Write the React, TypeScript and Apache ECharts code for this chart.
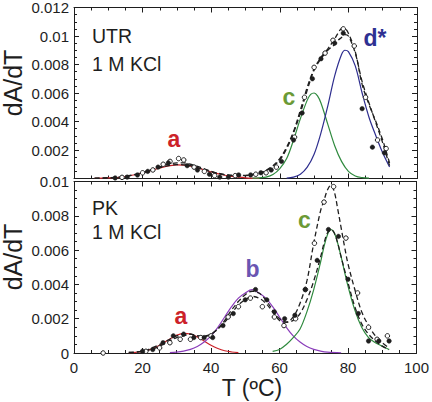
import React, { useEffect, useRef } from "react";
import * as echarts from "echarts";

// ---------- axes ----------
const T_MIN = 0;
const T_MAX = 100;
const T_STEP = 20;
const TOP_Y_MAX = 0.012;
const BOT_Y_MAX = 0.01;
const Y_STEP = 0.002;

// ---------- top panel (UTR, 1 M KCl) ----------
const topA = [[6,0.00001],[10,0.00004],[14,0.0001],[18,0.00028],[22,0.00054],[26,0.0008],[28,0.0009],[30,0.00095],[32,0.00094],[34,0.00087],[36,0.00075],[38,0.00061],[40,0.00046],[42,0.00034],[44,0.00023],[46,0.00015],[48,0.00009],[50,0.00005],[54,0.00001]];
const topC = [[52,0.00002],[54,0.00005],[56,0.0001],[58,0.00028],[60,0.0007],[62,0.0014],[64,0.0027],[66,0.0042],[68,0.0055],[69,0.0059],[70,0.006],[71,0.0058],[72,0.0053],[74,0.0038],[76,0.0023],[78,0.0012],[80,0.0005],[82,0.00018],[84,0.00006],[86,0.00002]];
const topD = [[62,0.00003],[64,0.0001],[66,0.0003],[68,0.0008],[70,0.0017],[72,0.0032],[74,0.0051],[76,0.0072],[78,0.0087],[79,0.009],[80,0.0089],[82,0.0079],[84,0.006],[86,0.0043],[88,0.003],[90,0.0018],[92,0.0008]];
const topFitOpen = [[6,0.00002],[10,0.00005],[14,0.00012],[18,0.0003],[22,0.00058],[26,0.0009],[28,0.00103],[30,0.0011],[32,0.0011],[34,0.001],[36,0.00085],[38,0.00068],[40,0.0005],[42,0.00037],[44,0.00028],[46,0.00023],[48,0.00021],[50,0.00022],[52,0.00027],[54,0.00038],[56,0.00058],[58,0.0009],[60,0.0014],[62,0.0022],[64,0.0033],[66,0.0048],[68,0.0064],[70,0.0077],[72,0.0085],[74,0.0091],[76,0.0098],[77,0.0102],[78,0.0105],[79,0.0105],[80,0.0102],[82,0.0089],[84,0.0066],[86,0.0052],[88,0.004],[90,0.0027],[91,0.0019],[92,0.0011]];
const topFitFilled = [[6,0.00001],[10,0.00004],[14,0.0001],[18,0.00028],[22,0.00054],[26,0.00082],[28,0.00092],[30,0.00097],[32,0.00096],[34,0.0009],[36,0.00077],[38,0.00062],[40,0.00047],[42,0.00035],[44,0.00026],[46,0.0002],[48,0.00018],[50,0.0002],[52,0.00025],[54,0.00035],[56,0.00055],[58,0.00085],[60,0.0013],[62,0.0021],[64,0.0032],[66,0.0046],[68,0.0062],[70,0.0076],[72,0.0084],[74,0.009],[76,0.0094],[77,0.0097],[78,0.0099],[79,0.0101],[80,0.01],[82,0.0088],[84,0.0068],[86,0.0053],[88,0.0039],[90,0.0025],[91,0.0017],[92,0.0009]];
const topFilled = [[12,0.00004],[15.5,0.0001],[18.5,0.00025],[21.5,0.0005],[24.5,0.0008],[27.5,0.0011],[33,0.0009],[36,0.0006],[39.5,0.0003],[42.5,0.0001],[45,0.0001],[48,0.00025],[51.5,0.00025],[54.5,0.0004],[57.5,0.0006],[60.5,0.0012],[64,0.0027],[66.5,0.0046],[69.5,0.007],[72,0.0084],[76,0.0095],[78.5,0.0102],[84,0.0049],[87,0.0022],[90.5,0.0018]];
const topOpen = [[14,0.00008],[20,0.0004],[23,0.0006],[26,0.001],[28,0.0012],[30.5,0.0014],[32,0.0013],[35,0.0008],[38,0.0005],[41,0.0002],[47,0.0002],[53,0.0003],[56,0.0004],[59,0.0008],[64.3,0.0029],[67.2,0.0057],[70,0.0078],[73.2,0.0088],[75.5,0.0097],[78.5,0.0105],[81.7,0.0093],[85,0.0057],[88.5,0.0027],[91,0.0021]];

// ---------- bottom panel (PK, 1 M KCl) ----------
const botA = [[16,0.00001],[18,0.00004],[20,0.00009],[22,0.00019],[24,0.00035],[26,0.00057],[28,0.00082],[30,0.00104],[32,0.00115],[34,0.00111],[36,0.00094],[38,0.0007],[40,0.00045],[42,0.00026],[44,0.00013],[46,0.00006],[48,0.00002]];
const botB = [[28,0.00002],[30,0.00005],[32,0.00011],[34,0.00021],[36,0.00038],[38,0.00064],[40,0.001],[42,0.0015],[44,0.0021],[46,0.0027],[48,0.0032],[50,0.0035],[52,0.0037],[54,0.0035],[56,0.0032],[58,0.0027],[60,0.0021],[62,0.0015],[64,0.001],[66,0.00064],[68,0.00038],[70,0.00021],[72,0.00011],[74,0.00005],[78,0.00001]];
const botC = [[58,0.0001],[60,0.0002],[62,0.0005],[64,0.0009],[66,0.0014],[68,0.0024],[70,0.0037],[72,0.0053],[73,0.0062],[74,0.0069],[75,0.0072],[76,0.007],[77,0.0064],[78,0.0056],[80,0.0039],[82,0.0025],[84,0.0015],[86,0.0009],[88,0.0006],[90,0.0004],[92,0.0002]];
const botFitOpen = [[16,0.00003],[20,0.0001],[24,0.0003],[26,0.0005],[28,0.0007],[30,0.0009],[32,0.001],[34,0.0011],[36,0.001],[38,0.001],[40,0.0011],[42,0.0014],[44,0.0018],[46,0.0023],[48,0.0028],[50,0.0031],[52,0.0033],[54,0.0032],[56,0.0029],[58,0.0024],[60,0.0019],[62,0.0018],[64,0.0021],[66,0.0029],[68,0.0042],[70,0.0064],[72,0.0083],[73,0.0089],[74,0.0095],[75,0.0098],[76,0.0094],[77,0.0084],[78,0.0073],[79,0.0062],[80,0.0052],[82,0.0037],[84,0.0024],[86,0.0016],[88,0.001],[90,0.0006],[92,0.0003]];
const botFitFilled = [[16,0.00003],[20,0.0001],[24,0.0004],[26,0.0006],[28,0.0008],[30,0.001],[32,0.0011],[34,0.0011],[36,0.001],[38,0.00095],[40,0.0011],[42,0.0014],[44,0.0019],[46,0.0025],[48,0.003],[50,0.0034],[52,0.0036],[54,0.0035],[56,0.0031],[58,0.0025],[60,0.002],[62,0.0018],[64,0.0019],[66,0.0023],[68,0.0031],[70,0.0042],[72,0.0056],[73,0.0064],[74,0.007],[75,0.0072],[76,0.007],[77,0.0064],[78,0.0056],[80,0.0041],[82,0.0027],[84,0.0017],[86,0.0011],[88,0.0007],[90,0.0004],[92,0.0002]];
const botFilled = [[20,0.0001],[23,0.0002],[26,0.0006],[29,0.001],[32,0.0011],[35,0.0009],[38,0.0009],[40.5,0.0009],[43.5,0.0016],[46.5,0.0023],[50,0.0031],[53,0.0037],[56.3,0.0031],[58.5,0.0024],[61.5,0.002],[64.5,0.0022],[67.5,0.0037],[71,0.0054],[74.3,0.0072],[77.2,0.0068],[80,0.0043],[83,0.0023],[86,0.0007],[89,0.0007],[92,0.0007]];
const botOpen = [[8.5,0],[21,0.0001],[25,0.0003],[28,0.0006],[31,0.0008],[34,0.0008],[37,0.0009],[40,0.001],[45,0.0021],[48,0.0027],[51.5,0.0032],[55,0.0027],[58.5,0.0021],[61.3,0.0016],[64.7,0.002],[67.6,0.0037],[70.2,0.0064],[73,0.0088],[75.8,0.0097],[79.4,0.0067],[82.8,0.0035],[86,0.0015],[88.5,0.0008],[91.5,0.001]];

// ---------- text ----------
const Y_TITLE = "dA/dT";
const X_TITLE = "T (ºC)";
const TOP_TITLE = ["UTR", "1 M KCl"];
const BOT_TITLE = ["PK", "1 M KCl"];

const FONT = "'Liberation Sans', Arial, Helvetica, sans-serif";
const INK = "#1e1e1e";
const RED = "#cc2229";
const GREEN = "#2f8a3e";
const GREEN_LABEL = "#6b9a36";
const BLUE = "#2d2d8e";
const BLUE_LABEL = "#2e3192";
const PURPLE = "#8a3dba";
const PURPLE_LABEL = "#6a55b2";

const fmtY = (v: number) => (v === 0 ? "0" : String(+v.toFixed(4)));

const axisLine = { show: true, onZero: false, lineStyle: { color: INK, width: 1 } };
const axisTick = { show: true, inside: true, length: 5, lineStyle: { color: INK, width: 1 } };
const minorTick = { show: true, splitNumber: 4, length: 3, lineStyle: { color: INK, width: 1 } };

function xAx(gridIndex: number, position: string, labels: boolean) {
  return {
    type: "value", gridIndex, position, min: T_MIN, max: T_MAX, interval: T_STEP,
    axisLine, axisTick, minorTick, splitLine: { show: false },
    axisLabel: { show: labels, margin: 7, fontSize: 15, fontFamily: FONT, color: INK },
  };
}
function yAx(gridIndex: number, position: string, max: number, labels: boolean, showMin: boolean) {
  return {
    type: "value", gridIndex, position, min: 0, max, interval: Y_STEP,
    axisLine, axisTick, minorTick, splitLine: { show: false },
    axisLabel: { show: labels, margin: 5, fontSize: 15, fontFamily: FONT, color: INK, formatter: fmtY, showMinLabel: showMin },
  };
}

function curve(data: number[][], color: string, axis: number, dashed = false) {
  return {
    type: "line", data, xAxisIndex: axis * 2, yAxisIndex: axis * 2, showSymbol: false, smooth: 0.35,
    lineStyle: { color, width: dashed ? 1.3 : 1.2, type: dashed ? [5, 3] : "solid" }, z: dashed ? 3 : 2,
  };
}
function dots(data: number[][], axis: number, open: boolean) {
  return {
    type: "scatter", data, xAxisIndex: axis * 2, yAxisIndex: axis * 2, symbol: "circle",
    symbolSize: 4.5, itemStyle: { color: open ? "#ffffff" : INK, borderColor: INK, borderWidth: open ? 1 : 0.5, opacity: 1 }, z: 4,
  };
}
function txt(text: string, x: number, y: number, size: number, color: string, bold = false, align = "left") {
  return { type: "text", x, y, z: 10, style: { text, fill: color, font: `${bold ? "bold " : ""}${size}px ${FONT}`, align, verticalAlign: "middle" } };
}

export default function App() {
  const ref = useRef<HTMLDivElement>(null);
  useEffect(() => {
    const chart = echarts.init(ref.current!, null, { renderer: "svg" });
    const option: any = {
      animation: false,
      backgroundColor: "#fff",
      grid: [
        { left: 74, top: 6.5, width: 343, height: 172 },
        { left: 74, top: 181.5, width: 343, height: 171.5 },
      ],
      xAxis: [xAx(0, "bottom", false), xAx(0, "top", false), xAx(1, "bottom", true), xAx(1, "top", false)],
      yAxis: [
        yAx(0, "left", TOP_Y_MAX, true, false), yAx(0, "right", TOP_Y_MAX, false, false),
        yAx(1, "left", BOT_Y_MAX, true, true), yAx(1, "right", BOT_Y_MAX, false, false),
      ],
      series: [
        curve(topA, RED, 0), curve(topC, GREEN, 0), curve(topD, BLUE, 0),
        curve(topFitOpen, INK, 0, true), curve(topFitFilled, INK, 0, true),
        dots(topOpen, 0, true), dots(topFilled, 0, false),
        curve(botA, RED, 1), curve(botB, PURPLE, 1), curve(botC, GREEN, 1),
        curve(botFitOpen, INK, 1, true), curve(botFitFilled, INK, 1, true),
        dots(botOpen, 1, true), dots(botFilled, 1, false),
      ],
      graphic: [
        { type: "text", x: 12.5, y: 83, rotation: Math.PI / 2, z: 10, style: { text: Y_TITLE, fill: INK, font: `25px ${FONT}`, align: "center", verticalAlign: "middle" } },
        { type: "text", x: 12.5, y: 257, rotation: Math.PI / 2, z: 10, style: { text: Y_TITLE, fill: INK, font: `25px ${FONT}`, align: "center", verticalAlign: "middle" } },
        txt(X_TITLE, 252, 388, 23, INK, false, "center"),
        txt(TOP_TITLE[0], 92, 36, 19.5, INK),
        txt(TOP_TITLE[1], 92, 63.5, 19.5, INK),
        txt(BOT_TITLE[0], 92, 208, 19.5, INK),
        txt(BOT_TITLE[1], 92, 232, 19.5, INK),
        txt("a", 174, 139, 23, RED, true, "center"),
        txt("c", 289, 97, 23, GREEN_LABEL, true, "center"),
        txt("d*", 375, 38, 23, BLUE_LABEL, true, "center"),
        txt("a", 181, 316, 23, RED, true, "center"),
        txt("b", 252.5, 269, 23, PURPLE_LABEL, true, "center"),
        txt("c", 304.5, 219.5, 23, GREEN_LABEL, true, "center"),
      ],
    };
    chart.setOption(option);
    return () => chart.dispose();
  }, []);
  return <div ref={ref} style={{ position: "fixed", left: 0, top: 0, width: 432, height: 402, background: "#fff" }} />;
}
